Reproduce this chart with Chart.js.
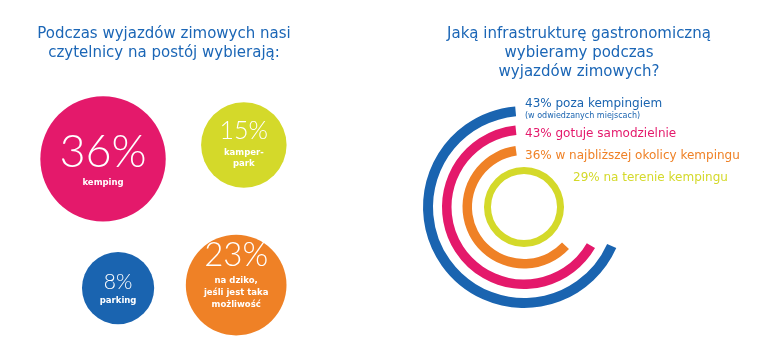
<!DOCTYPE html>
<html>
<head>
<meta charset="utf-8">
<script src="https://cdn.jsdelivr.net/npm/chart.js"></script>
<style>
  body { margin: 0; background: #fff; }
  #wrap { position: relative; width: 774px; height: 352px; }
  #wrap canvas { position: absolute; left: 0; top: 0; }
</style>
</head>
<body>
<div id="wrap">
  <canvas id="spots" width="774" height="352"></canvas>
  <canvas id="rings" width="774" height="352"></canvas>
</div>
<script>
// ── DATA
const leftTitle  = ['Podczas wyjazdów zimowych nasi', 'czytelnicy na postój wybierają:'];
const spotValues = [36, 15, 8, 23];
const spotLabels = [['kemping'], ['kamper-', 'park'], ['parking'], ['na dziko,', 'jeśli jest taka', 'możliwość']];
const spotX      = [32.2, 76.2, 36.9, 73.8];   // 0-100 grid
const spotY      = [71, 76.1, 23.5, 24.6];     // 0-100 grid

const rightTitle = ['Jaką infrastrukturę gastronomiczną', 'wybieramy podczas', 'wyjazdów zimowych?'];
const ringValues = [43, 43, 36, 29];
const ringNames  = ['poza kempingiem', 'gotuje samodzielnie', 'w najbliższej okolicy kempingu', 'na terenie kempingu'];
const ringNotes  = ['(w odwiedzanych miejscach)', '', '', ''];

// ── STYLE
const BLUE = '#1a64b0', PINK = '#e4196b', ORANGE = '#ef8126', LIME = '#d4d92a';
const TITLE_BLUE = '#1b66b6';
const FONT = '"DejaVu Sans", sans-serif';
const NUM_FONT = 'Lato, "DejaVu Sans", sans-serif';

const spotColors = [PINK, LIME, BLUE, ORANGE];
const spotNumFont = [45, 25, 21, 33];
const spotNumDy   = [7.7, -6, 1.3, -19.5];
const spotLblDy   = [26, 10, 15.3, -1.7];
const spotLblGap  = [11, 11, 11, 12];

const ringColors = [BLUE, PINK, ORANGE, LIME];
const ringWeights = [10, 9.5, 9.5, 7];
const gapWeights  = [9, 11, 12];
const ringStart   = [114, 120, 133, 0];    // degrees clockwise from 12 o'clock
const ringSweep   = [241, 234, 219, 360];
const ringLabelX  = [525, 525, 525, 573];
const ringLabelY  = [107, 137, 159, 181];

function spotRadius(v) { return 28.5 + 0.95 * v; }

// ── LEFT: bubble chart
const spotText = {
  id: 'spotText',
  afterDatasetsDraw(chart) {
    const ctx = chart.ctx;
    ctx.save();
    ctx.fillStyle = TITLE_BLUE;
    ctx.textAlign = 'center';
    ctx.font = '15px ' + FONT;
    leftTitle.forEach((t, i) => ctx.fillText(t, 164, 38 + i * 19));

    const meta = chart.getDatasetMeta(0);
    meta.data.forEach((pt, i) => {
      ctx.fillStyle = '#fff';
      ctx.font = '300 ' + spotNumFont[i] + 'px ' + NUM_FONT;
      ctx.fillText(spotValues[i] + '%', pt.x, pt.y + spotNumDy[i]);
      ctx.font = 'bold 8.5px ' + FONT;
      spotLabels[i].forEach((l, j) => ctx.fillText(l, pt.x, pt.y + spotLblDy[i] + j * spotLblGap[i]));
    });
    ctx.restore();
  }
};

new Chart(document.getElementById('spots'), {
  type: 'bubble',
  data: {
    datasets: [{
      data: spotValues.map((v, i) => ({ x: spotX[i], y: spotY[i], r: spotRadius(v) })),
      backgroundColor: spotColors,
      borderWidth: 0,
      clip: false,
    }]
  },
  options: {
    responsive: false,
    animation: false,
    layout: { autoPadding: false, padding: { left: 0, right: 454, top: 80, bottom: 0 } },
    scales: {
      x: { display: false, min: 0, max: 100 },
      y: { display: false, min: 0, max: 100 }
    },
    plugins: { legend: { display: false }, tooltip: { enabled: false } }
  },
  plugins: [spotText]
});

// ── RIGHT: concentric rings
const ringText = {
  id: 'ringText',
  afterDatasetsDraw(chart) {
    const ctx = chart.ctx;
    ctx.save();
    ctx.fillStyle = TITLE_BLUE;
    ctx.textAlign = 'center';
    ctx.font = '15px ' + FONT;
    rightTitle.forEach((t, i) => ctx.fillText(t, 579, 38 + i * 19));

    ctx.textAlign = 'left';
    ringValues.forEach((v, i) => {
      ctx.fillStyle = ringColors[i];
      ctx.font = '12px ' + FONT;
      ctx.fillText(v + '% ' + ringNames[i], ringLabelX[i], ringLabelY[i]);
      if (ringNotes[i]) {
        ctx.font = '8px ' + FONT;
        ctx.fillText(ringNotes[i], ringLabelX[i], ringLabelY[i] + 10.5);
      }
    });
    ctx.restore();
  }
};

const ringSets = [];
ringValues.forEach((v, i) => {
  ringSets.push({
    label: ringNames[i],
    data: [v],
    backgroundColor: ringColors[i],
    borderWidth: 0,
    weight: ringWeights[i],
    rotation: ringStart[i],
    circumference: ringSweep[i],
  });
  if (i < ringValues.length - 1) {
    ringSets.push({ data: [1], backgroundColor: 'rgba(0,0,0,0)', borderWidth: 0, weight: gapWeights[i] });
  }
});

new Chart(document.getElementById('rings'), {
  type: 'doughnut',
  data: { labels: ['udział'], datasets: ringSets },
  options: {
    responsive: false,
    animation: false,
    cutout: '32.7%',
    layout: { padding: { left: 423, right: 149, top: 106, bottom: 44 } },
    plugins: { legend: { display: false }, tooltip: { enabled: false } }
  },
  plugins: [ringText]
});
</script>
</body>
</html>
